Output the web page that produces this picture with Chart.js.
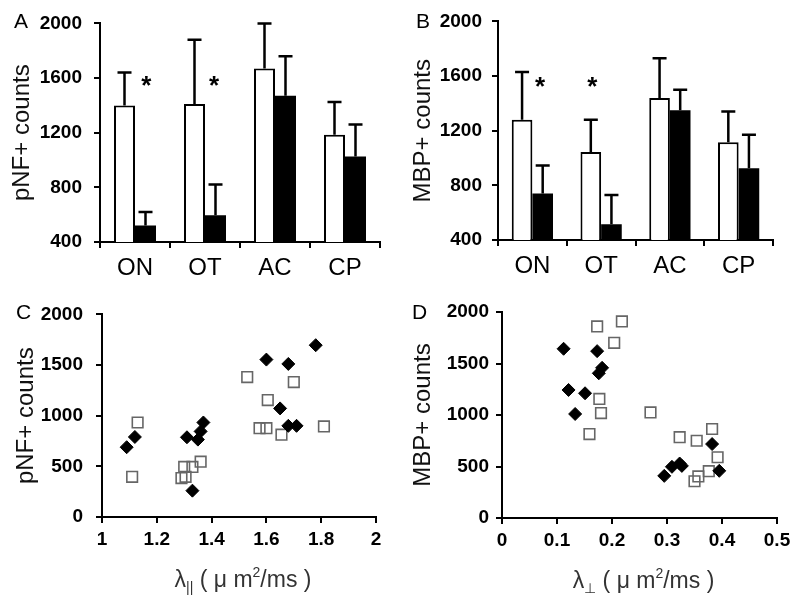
<!DOCTYPE html>
<html><head><meta charset="utf-8">
<script src="https://cdn.jsdelivr.net/npm/chart.js@4/dist/chart.umd.min.js"></script>
<style>
html,body{margin:0;padding:0;background:#fff;}
#wrap{position:relative;width:800px;height:607px;overflow:hidden;background:#fff;}
canvas{position:absolute;}
</style></head><body>
<div id="wrap">
<canvas id="cA" width="400" height="290" style="left:0px;top:0px;width:400px;height:290px"></canvas>
<canvas id="cB" width="400" height="290" style="left:400px;top:0px;width:400px;height:290px"></canvas>
<canvas id="cC" width="400" height="317" style="left:0px;top:290px;width:400px;height:317px"></canvas>
<canvas id="cD" width="400" height="317" style="left:400px;top:290px;width:400px;height:317px"></canvas>
</div>
<script>
// ---------- data ----------
const categories = ['ON', 'OT', 'AC', 'CP'];

const pnfWhite    = [1400, 1410, 1670, 1185];
const pnfWhiteErr = [240, 470, 330, 240];
const pnfBlack    = [520, 595, 1470, 1025];
const pnfBlackErr = [100, 225, 290, 235];

const mbpWhite    = [1280, 1045, 1440, 1115];
const mbpWhiteErr = [350, 235, 290, 225];
const mbpBlack    = [740, 515, 1350, 925];
const mbpBlackErr = [205, 215, 150, 245];

// asterisks (category index position, value)
const pnfStarX = [0.16, 1.13];
const pnfStarY = [1585, 1585];
const mbpStarX = [0.11, 0.87];
const mbpStarY = [1565, 1565];

const barYTicks = [400, 800, 1200, 1600, 2000];
const scatterYTicks = [0, 500, 1000, 1500, 2000];
const lambdaParTicks = [1, 1.2, 1.4, 1.6, 1.8, 2];
const lambdaPerpTicks = [0, 0.1, 0.2, 0.3, 0.4, 0.5];

// panel C : pNF+ vs axial diffusivity
const cOpenX   = [1.13, 1.11, 1.29, 1.305, 1.30, 1.33, 1.36, 1.53, 1.70, 1.605, 1.575, 1.60, 1.655, 1.81];
const cOpenY   = [933, 397, 384, 397, 494, 494, 546, 1381, 1332, 1154, 877, 877, 813, 894];
const cFilledX = [1.09, 1.12, 1.31, 1.35, 1.36, 1.37, 1.33, 1.78, 1.60, 1.68, 1.65, 1.68, 1.71];
const cFilledY = [689, 790, 787, 764, 845, 933, 260, 1696, 1554, 1511, 1072, 900, 900];

// panel D : MBP+ vs radial diffusivity
const dOpenX   = [0.173, 0.218, 0.204, 0.177, 0.180, 0.159, 0.270, 0.323, 0.354, 0.382, 0.392, 0.376, 0.357, 0.350];
const dOpenY   = [1860, 1908, 1701, 1156, 1019, 815, 1025, 785, 750, 864, 590, 455, 404, 357];
const dFilledX = [0.112, 0.173, 0.182, 0.176, 0.121, 0.151, 0.133, 0.382, 0.395, 0.295, 0.309, 0.323, 0.327];
const dFilledY = [1643, 1620, 1458, 1405, 1243, 1211, 1010, 718, 458, 409, 497, 529, 506];

// ---------- styling ----------
const FAM = '"Liberation Sans", Arial, Helvetica, sans-serif';
Chart.defaults.font.family = FAM;
Chart.defaults.color = '#000';
Chart.defaults.animation = false;

const errorBars = {
  id: 'errorBars',
  afterDatasetsDraw(chart) {
    const ctx = chart.ctx, ys = chart.scales.y;
    chart.data.datasets.forEach((ds, di) => {
      if (!ds.errors) return;
      const meta = chart.getDatasetMeta(di);
      meta.data.forEach((bar, i) => {
        const top = ys.getPixelForValue(ds.data[i] + ds.errors[i]);
        ctx.save();
        ctx.strokeStyle = '#000';
        ctx.lineWidth = 2.5;
        ctx.beginPath();
        ctx.moveTo(bar.x, bar.y);
        ctx.lineTo(bar.x, top);
        ctx.moveTo(bar.x - 7, top);
        ctx.lineTo(bar.x + 7, top);
        ctx.stroke();
        ctx.restore();
      });
    });
  }
};

const deco = {
  id: 'deco',
  afterDraw(chart, args, o) {
    const ctx = chart.ctx;
    ctx.save();
    ctx.fillStyle = '#000';
    if (o.letter) {
      ctx.font = '21px ' + FAM;
      ctx.textAlign = 'left';
      ctx.textBaseline = 'alphabetic';
      ctx.fillText(o.letter, o.letterX, o.letterY);
    }
    if (o.starX) {
      ctx.font = 'bold 26px ' + FAM;
      ctx.textAlign = 'center';
      ctx.textBaseline = 'alphabetic';
      o.starX.forEach((sx, i) => {
        const px = chart.scales.x.getPixelForValue(sx);
        const py = chart.scales.y.getPixelForValue(o.starY[i]);
        ctx.fillText('*', px, py + 14);
      });
    }
    if (o.xTitle) {
      const t = o.xTitle;
      const big = '23px ' + FAM, small = '14px ' + FAM;
      ctx.fillStyle = '#333';
      ctx.textBaseline = 'alphabetic';
      ctx.textAlign = 'left';
      const parts = [
        [t.sym, big, 0], [t.sub, small, 5], [t.mid, big, 0], [t.sup, small, -10], [t.tail, big, 0]
      ];
      let w = 0;
      parts.forEach(p => { ctx.font = p[1]; w += ctx.measureText(p[0]).width; });
      const ca = chart.chartArea;
      let x = (ca.left + ca.right) / 2 - w / 2 + 4;
      const y = ca.bottom + o.xTitleDy;
      parts.forEach(p => { ctx.font = p[1]; ctx.fillText(p[0], x, y + p[2]); x += ctx.measureText(p[0]).width; });
    }
    ctx.restore();
  }
};

function axisCommon(tickFont, tickPad) {
  return {
    grid: { display: true, drawOnChartArea: false, drawTicks: true, tickLength: 6, color: '#000', lineWidth: 2 },
    border: { display: true, color: '#000', width: 2 },
    ticks: { font: tickFont, color: '#000', padding: tickPad, callback: v => String(v) }
  };
}

function barChart(id, white, whiteErr, black, blackErr, yTitle, cfg) {
  const yAx = axisCommon({ size: 19, weight: 'bold' }, cfg.yTickPad);
  Object.assign(yAx, {
    min: 400, max: 2000,
    afterBuildTicks: s => { s.ticks = barYTicks.map(v => ({ value: v })); },
    afterFit: s => { s.width = cfg.yW; },
    title: { display: true, text: yTitle, font: { size: 24, lineHeight: 1 }, color: '#111', padding: { top: cfg.titlePad, bottom: 0 } }
  });
  const xAx = axisCommon({ size: 24 }, cfg.xTickPad);
  xAx.ticks.callback = function (v) { return this.getLabelForValue(v); };
  Object.assign(xAx, { afterFit: s => { s.height = cfg.xH; } });
  xAx.grid.offset = true;
  return new Chart(document.getElementById(id), {
    type: 'bar',
    data: {
      labels: categories,
      datasets: [
        { data: white, errors: whiteErr, backgroundColor: '#fff', borderColor: '#000', borderWidth: 2, borderSkipped: 'bottom' },
        { data: black, errors: blackErr, backgroundColor: '#000', borderColor: '#000', borderWidth: 0 }
      ]
    },
    options: {
      responsive: false, animation: false,
      layout: { padding: cfg.pad },
      datasets: { bar: { categoryPercentage: 0.6, barPercentage: 1.0 } },
      scales: { x: xAx, y: yAx },
      plugins: { legend: { display: false }, tooltip: { enabled: false }, deco: cfg.deco }
    },
    plugins: [errorBars, deco]
  });
}

function scatterChart(id, openX, openY, filledX, filledY, xTicks, xMin, xMax, yTitle, cfg) {
  const yAx = axisCommon({ size: 19, weight: 'bold' }, cfg.yTickPad);
  Object.assign(yAx, {
    min: 0, max: 2000,
    afterBuildTicks: s => { s.ticks = scatterYTicks.map(v => ({ value: v })); },
    afterFit: s => { s.width = cfg.yW; },
    title: { display: true, text: yTitle, font: { size: 24, lineHeight: 1 }, color: '#111', padding: { top: cfg.titlePad, bottom: 0 } }
  });
  const xAx = axisCommon({ size: 19, weight: 'bold' }, cfg.xTickPad);
  Object.assign(xAx, {
    type: 'linear', min: xMin, max: xMax,
    afterBuildTicks: s => { s.ticks = xTicks.map(v => ({ value: v })); },
    afterFit: s => { s.height = cfg.xH; }
  });
  return new Chart(document.getElementById(id), {
    type: 'scatter',
    data: {
      datasets: [
        { data: filledX.map((x, i) => ({ x, y: filledY[i] })), pointStyle: 'rectRot', radius: 6.5,
          backgroundColor: '#000', borderColor: '#000', borderWidth: 1 },
        { data: openX.map((x, i) => ({ x, y: openY[i] })), pointStyle: 'rect', radius: 7.5,
          backgroundColor: 'rgba(255,255,255,0)', borderColor: '#666', borderWidth: 1.6 }
      ]
    },
    options: {
      responsive: false, animation: false,
      layout: { padding: cfg.pad },
      scales: { x: xAx, y: yAx },
      plugins: { legend: { display: false }, tooltip: { enabled: false }, deco: cfg.deco }
    },
    plugins: [deco]
  });
}

barChart('cA', pnfWhite, pnfWhiteErr, pnfBlack, pnfBlackErr, 'pNF+ counts', {
  pad: { left: 0, top: 19, right: 20, bottom: 0 }, yW: 100, xH: 48, yTickPad: 12, xTickPad: 6, titlePad: 10,
  deco: { letter: 'A', letterX: 14, letterY: 28, starX: pnfStarX, starY: pnfStarY }
});
barChart('cB', mbpWhite, mbpWhiteErr, mbpBlack, mbpBlackErr, 'MBP+ counts', {
  pad: { left: 0, top: 16, right: 27, bottom: 0 }, yW: 98, xH: 50, yTickPad: 10, xTickPad: 6, titlePad: 11,
  deco: { letter: 'B', letterX: 16, letterY: 28, starX: mbpStarX, starY: mbpStarY }
});
scatterChart('cC', cOpenX, cOpenY, cFilledX, cFilledY, lambdaParTicks, 1, 2, 'pNF+ counts', {
  pad: { left: 0, top: 22, right: 24, bottom: 0 }, yW: 102, xH: 90, yTickPad: 13, xTickPad: 5, titlePad: 14,
  deco: { letter: 'C', letterX: 16, letterY: 29, xTitleDy: 70,
          xTitle: { sym: 'λ', sub: '||', mid: ' ( μ m', sup: '2', tail: '/ms )' } }
});
scatterChart('cD', dOpenX, dOpenY, dFilledX, dFilledY, lambdaPerpTicks, 0, 0.5, 'MBP+ counts', {
  pad: { left: 0, top: 22, right: 23, bottom: 0 }, yW: 102, xH: 89, yTickPad: 7, xTickPad: 5, titlePad: 11,
  deco: { letter: 'D', letterX: 12, letterY: 29, xTitleDy: 70,
          xTitle: { sym: 'λ', sub: '⊥', mid: ' ( μ m', sup: '2', tail: '/ms )' } }
});
</script>
</body></html>
